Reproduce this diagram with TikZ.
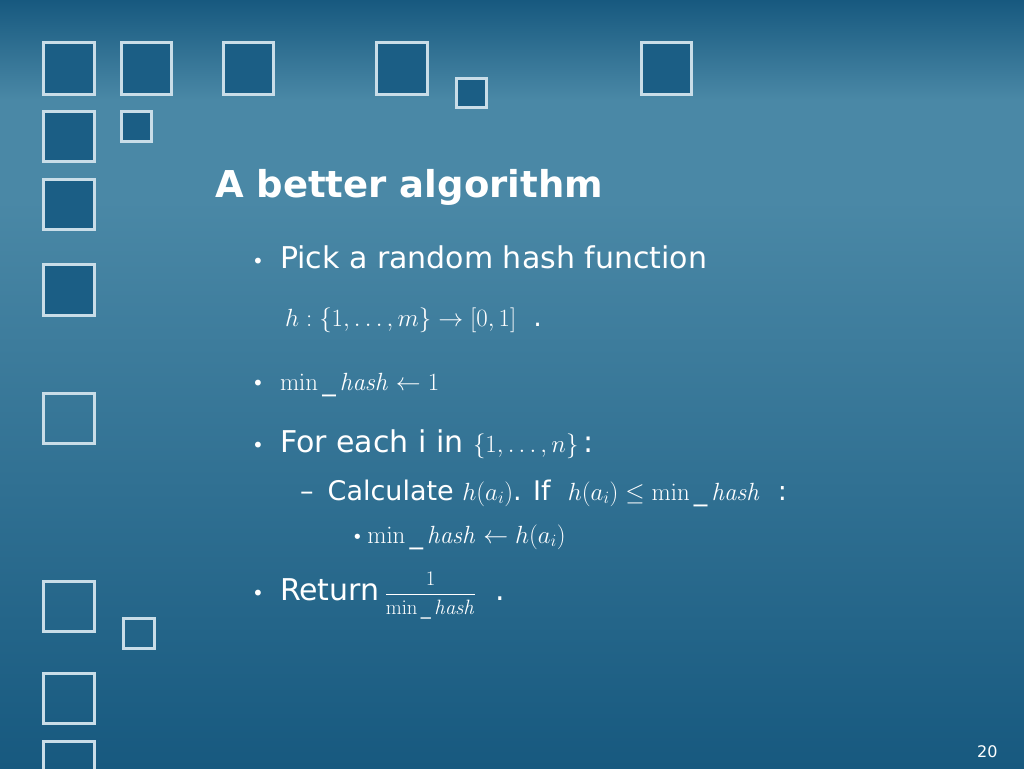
\documentclass[tikz,border=0pt]{standalone}
\usepackage{amsmath}
\usepackage[no-math]{fontspec}
\setmainfont{DejaVu Sans}
\definecolor{bgdark}{HTML}{17597F}
\definecolor{bglight}{HTML}{4A88A6}
\definecolor{sqline}{HTML}{C9DDE8}
\definecolor{sqfill}{HTML}{1B5E85}
\tikzset{
  sq/.style={draw=sqline,line width=3pt,fill=sqfill},
  sqo/.style={draw=sqline,line width=3pt},
  txt/.style={anchor=base west,inner sep=0pt,text=white,font=\fontsize{30}{34}\selectfont},
  mth/.style={anchor=base west,inner sep=0pt,text=white,font=\fontsize{27}{32}\selectfont},
}
\newcommand{\bul}{{\fontsize{20}{24}\selectfont\textbullet}\hspace{16pt}}
\begin{document}
\begin{tikzpicture}[x=1pt,y=-1pt]
\useasboundingbox (0,0) rectangle (1024,768);
\shade[top color=bgdark,bottom color=bglight,middle color=bglight] (0,0) rectangle (1024,200);
\shade[top color=bglight,bottom color=bgdark] (0,200) rectangle (1024,768);
% squares
\draw[sq] (43,43) rectangle (94,94);
\draw[sq] (121,43) rectangle (171,94);
\draw[sq] (223,43) rectangle (273,94);
\draw[sq] (376,43) rectangle (427,94);
\draw[sq] (456,78) rectangle (486,107);
\draw[sq] (641,43) rectangle (691,94);
\draw[sq] (43,111) rectangle (94,161);
\draw[sq] (121,111) rectangle (151,141);
\draw[sq] (43,179) rectangle (94,229);
\draw[sq] (43,264) rectangle (94,315);
\draw[sqo] (43,393) rectangle (94,443);
\draw[sqo] (43,581) rectangle (94,631);
\draw[sqo] (123,618) rectangle (154,648);
\draw[sqo] (43,673) rectangle (94,723);
\draw[sqo] (43,741) rectangle (94,792);
% text
\node[txt,font=\fontsize{37}{44}\selectfont\bfseries] (title) at (215,197) {A better algorithm};
\node[txt] (b1) at (252,268) {\bul Pick a random hash function};
\node[mth] (m1) at (285,326) {$h:\{1,\ldots,m\}\rightarrow[0,1]$\ \ .};
\node[txt] (b2) at (252,390) {\bul\fontsize{27}{32}\selectfont$\min\_\,\mathit{hash}\leftarrow 1$};
\node[txt] (b3) at (252,452) {\bul For each i in {\fontsize{25}{30}\selectfont$\{1,\ldots,n\}$}\,:};
\node[txt,font=\fontsize{27}{30}\selectfont] (b4) at (300,500) {--\hspace{14pt}Calculate $h(a_i)$. If \ $h(a_i)\leq\min\_\,\mathit{hash}$ \ :};
\node[txt,font=\fontsize{27}{30}\selectfont] (b5) at (352,543) {{\fontsize{18}{20}\selectfont\textbullet}\,$\min\_\,\mathit{hash}\leftarrow h(a_i)$};
\node[txt] (b6) at (252,600) {\bul Return\,{\fontsize{20}{24}\selectfont$\dfrac{1}{\min\_\,\mathit{hash}}$}\ \ .};
\node[txt,font=\fontsize{16}{20}\selectfont] (pg) at (977,757) {20};
\end{tikzpicture}
\end{document}
